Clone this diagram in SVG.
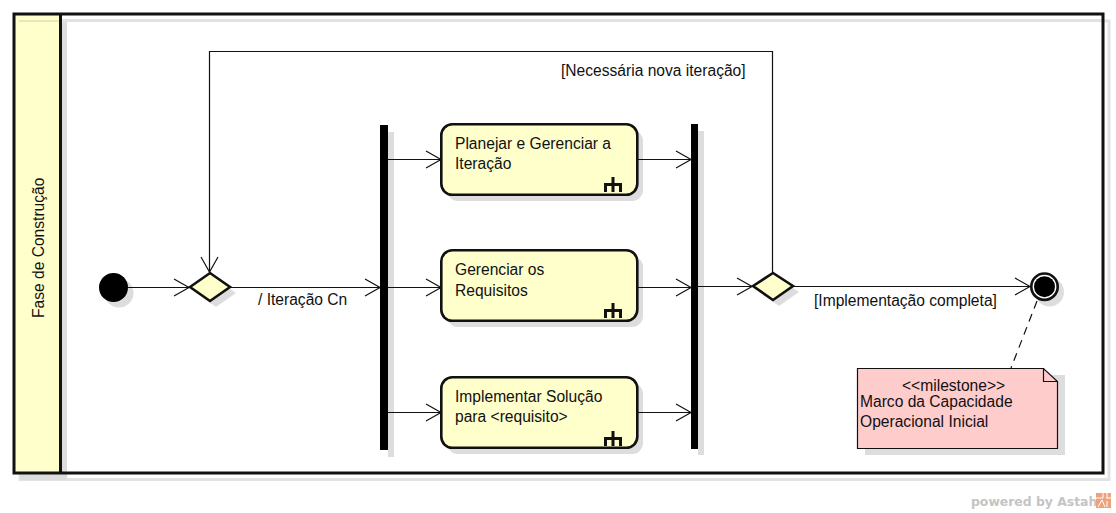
<svg xmlns="http://www.w3.org/2000/svg" width="1116" height="513" viewBox="0 0 1116 513">
<defs>
<style>
text{font-family:"Liberation Sans",Arial,sans-serif;font-size:15.6px;fill:#111}
.shadow{fill:#ddd;stroke:none}
.frame{fill:none;stroke:#111;stroke-width:3}
.act{fill:#ffffcc;stroke:#111;stroke-width:2.6}
.sub{fill:none;stroke:#111;stroke-width:3}
.line{fill:none;stroke:#111;stroke-width:1.2}
</style>
<marker id="open" markerUnits="userSpaceOnUse" markerWidth="20" markerHeight="20" refX="16" refY="10" orient="auto">
<path d="M1 1.500L16 10L1 18.500" fill="none" stroke="#111" stroke-width="1.200"/>
</marker>
</defs>
<rect width="1116" height="513" fill="#fff"/>
<g id="frame">
<rect x="20" y="21" width="1089" height="458.500" fill="none" stroke="#e2e2e2" stroke-width="3"/>
<rect x="20" y="22" width="47" height="458" fill="#dcdcdc"/>
<rect x="14" y="14" width="1089" height="459" fill="#fff"/>
<rect x="14" y="14" width="47" height="459" fill="#ffffcc"/>
<rect x="61" y="20" width="6" height="453" class="shadow"/>
<rect x="61" y="19" width="1042" height="3" fill="#e2e2e2"/>
<rect x="19" y="20" width="42" height="2" fill="#e6e6c0"/>
<rect x="14" y="14" width="1089" height="459" class="frame"/>
<line x1="60.500" y1="14" x2="60.500" y2="473" class="frame"/>
<text transform="translate(44 318) rotate(-90)">Fase de Construção</text>
</g>
<g id="start">
<circle cx="119" cy="293" r="14.500" class="shadow"/>
<circle cx="113.500" cy="287.500" r="14.500" fill="#000"/>
</g>
<g id="decision1">
<path d="M196 293L216 279L236 293L216 307Z" class="shadow"/>
<path d="M190 287L210 273L230 287L210 301Z" class="act"/>
</g>
<g id="fork">
<rect x="388" y="132" width="6" height="325" class="shadow"/>
<rect x="380" y="125" width="8" height="325" fill="#000"/>
</g>
<g id="action1">
<rect x="447" y="130" width="196" height="71" rx="11" class="shadow"/>
<rect x="441.300" y="124.300" width="196" height="70.500" rx="11" class="act"/>
<text x="455" y="149">Planejar e Gerenciar a</text>
<text x="455" y="169">Iteração</text>
<path class="sub" d="M613 177V192M605.500 192V184.500H620.500V192"/>
</g>
<g id="action2">
<rect x="447" y="256" width="196" height="71" rx="11" class="shadow"/>
<rect x="441.300" y="250.300" width="196" height="70.500" rx="11" class="act"/>
<text x="455" y="275">Gerenciar os</text>
<text x="455" y="296">Requisitos</text>
<path class="sub" d="M613 303V318M605.500 318V310.500H620.500V318"/>
</g>
<g id="action3">
<rect x="447" y="383" width="196" height="71" rx="11" class="shadow"/>
<rect x="441.300" y="377.300" width="196" height="70.500" rx="11" class="act"/>
<text x="455" y="402">Implementar Solução</text>
<text x="455" y="422">para &lt;requisito&gt;</text>
<path class="sub" d="M613 431V446M605.500 446V438.500H620.500V446"/>
</g>
<g id="join">
<rect x="698" y="131" width="6" height="324" class="shadow"/>
<rect x="691" y="124" width="7" height="325" fill="#000"/>
</g>
<g id="decision2">
<path d="M759 292L779 279L799 292L779 306Z" class="shadow"/>
<path d="M753 286L773 273L793 286L773 300Z" class="act"/>
</g>
<g id="final">
<circle cx="1049.500" cy="292" r="14.500" class="shadow"/>
<circle cx="1044.500" cy="286.700" r="13.200" fill="#fff" stroke="#111" stroke-width="2.600"/>
<circle cx="1044.500" cy="286.700" r="10.500" fill="#000"/>
</g>
<g id="note">
<path d="M865 375H1065V455H865Z" class="shadow"/>
<path d="M857.500 368.500H1043.500L1057.500 381.500V448.500H857.500Z" fill="#ffcccc" stroke="#111" stroke-width="1.200"/>
<path d="M1043.500 368.500V381.500H1057.500" fill="none" stroke="#111" stroke-width="1.200"/>
<text x="902" y="391">&lt;&lt;milestone&gt;&gt;</text>
<text x="860" y="407">Marco da Capacidade</text>
<text x="860" y="427">Operacional Inicial</text>
</g>
<g id="connectors">
<path class="line" d="M128 287.500H189" marker-end="url(#open)"/>
<path class="line" d="M230 287.500H380" marker-end="url(#open)"/>
<path class="line" d="M772.500 272V51.500H209.500V272" marker-end="url(#open)"/>
<path class="line" d="M388 159.500H441" marker-end="url(#open)"/>
<path class="line" d="M388 287.500H441" marker-end="url(#open)"/>
<path class="line" d="M388 412.500H441" marker-end="url(#open)"/>
<path class="line" d="M638 159.500H691" marker-end="url(#open)"/>
<path class="line" d="M638 287.500H691" marker-end="url(#open)"/>
<path class="line" d="M638 412.500H691" marker-end="url(#open)"/>
<path class="line" d="M698 286.500H752" marker-end="url(#open)"/>
<path class="line" d="M793 286.500H1030" marker-end="url(#open)"/>
<path class="line" d="M1037 301L1011 368" stroke-dasharray="8 6"/>
</g>
<text x="258" y="305">/ Iteração Cn</text>
<text x="561" y="76">[Necessária nova iteração]</text>
<text x="814" y="306">[Implementação completa]</text>
<g id="brand">
<text x="971" y="506" style="font-family:'DejaVu Sans',sans-serif;font-size:12.4px;font-weight:bold;fill:#c4c4c4">powered by Astah</text>
<rect x="1096" y="493" width="15" height="15" fill="#eda27e"/>
<path d="M1096 498H1103M1103 493V498M1107 493V498M1106 498H1111M1098 507L1102 500L1105 507M1107 501V507" fill="none" stroke="#fff" stroke-width="1"/>
</g>
</svg>
